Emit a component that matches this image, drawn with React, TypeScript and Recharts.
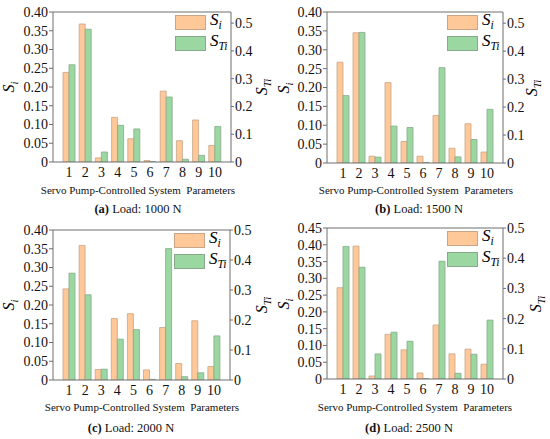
import React from 'react';
import { BarChart, Bar, XAxis, YAxis, Legend, ReferenceLine } from 'recharts';

// parameter index on the x axis
const params = ['1', '2', '3', '4', '5', '6', '7', '8', '9', '10'];

// first-order (Si) and total (STi) indices
const siA = [0.239, 0.368, 0.011, 0.119, 0.062, 0.004, 0.189, 0.057, 0.112, 0.044];
const stiA = [0.35, 0.478, 0.036, 0.132, 0.119, 0.001, 0.234, 0.01, 0.024, 0.128];
const siB = [0.267, 0.345, 0.018, 0.213, 0.057, 0.018, 0.126, 0.039, 0.104, 0.029];
const stiB = [0.241, 0.467, 0.021, 0.132, 0.127, 0.002, 0.341, 0.022, 0.084, 0.192];
const siC = [0.243, 0.359, 0.028, 0.164, 0.177, 0.027, 0.14, 0.044, 0.158, 0.036];
const stiC = [0.356, 0.284, 0.036, 0.136, 0.168, 0.002, 0.438, 0.011, 0.024, 0.147];
const siD = [0.272, 0.396, 0.009, 0.133, 0.087, 0.018, 0.161, 0.075, 0.089, 0.044];
const stiD = [0.439, 0.37, 0.083, 0.155, 0.125, 0.001, 0.39, 0.019, 0.082, 0.195];

const leftTicks = [0, 0.05, 0.1, 0.15, 0.2, 0.25, 0.3, 0.35, 0.4];
const leftTicksD = [0, 0.05, 0.1, 0.15, 0.2, 0.25, 0.3, 0.35, 0.4, 0.45];
const rightTicks = [0, 0.1, 0.2, 0.3, 0.4, 0.5];

const SERIF = "'Liberation Serif', 'Times New Roman', Times, serif";
const ORANGE = '#fec898';
const ORANGE_EDGE = '#c9a588';
const GREEN = '#9bd7a1';
const GREEN_EDGE = '#86aa8a';
const AXIS = '#6e6e6e';

const fmtLeft = (v: number) => (v === 0 ? '0' : v.toFixed(2));
const fmtRight = (v: number) => (v === 0 ? '0' : v.toFixed(1));

type PanelProps = {
  tag: string;
  load: string;
  si: number[];
  sti: number[];
  lTicks: number[];
  rMax: number;
  x: number;
  y: number;
  left: number;
  right: number;
  top: number;
  bottom: number;
  rTitleX: number;
  xTitleX: number;
  capX: number;
  xTitleY: number;
  capY: number;
};

const H = 185;
const tickStyle = { fontFamily: SERIF, fontSize: 14, fill: '#111' };

const Sym = ({ sub, size }: { sub: string; size: number }) => (
  <span style={{ fontFamily: SERIF, fontStyle: 'italic', fontSize: size, whiteSpace: 'nowrap' }}>
    S<span style={{ fontSize: size * 0.68, verticalAlign: -size * 0.22 }}>{sub}</span>
  </span>
);

const LegendBox = () => (
  <div style={{ lineHeight: 1 }}>
    {[
      { fill: ORANGE, edge: ORANGE_EDGE, sub: 'i' },
      { fill: GREEN, edge: GREEN_EDGE, sub: 'Ti' },
    ].map((r, i) => (
      <div key={i} style={{ display: 'flex', alignItems: 'center', height: 16, marginBottom: 5 }}>
        <span style={{ display: 'inline-block', width: 31, height: 15, background: r.fill, border: `1px solid ${r.edge}`, boxSizing: 'border-box' }} />
        <span style={{ marginLeft: 4, marginTop: -2 }}>
          <Sym sub={r.sub} size={17} />
        </span>
      </div>
    ))}
  </div>
);

const Panel = (p: PanelProps) => {
  const data = params.map((name, i) => ({ name, si: p.si[i], sti: p.sti[i] }));
  const lMax = p.lTicks[p.lTicks.length - 1];
  const plotMidY = (p.top + p.bottom) / 2;
  return (
    <div style={{ position: 'absolute', left: p.x, top: p.y, width: 275, height: 220, fontFamily: SERIF }}>
      <BarChart
        width={275}
        height={H}
        data={data}
        barGap={0}
        barSize={6}
        margin={{ top: p.top, right: 0, left: 0, bottom: 0 }}
        style={{ fontFamily: SERIF }}
      >
        <XAxis
          dataKey="name"
          height={H - p.bottom}
          padding={{ left: 8, right: 8 }}
          tickLine={false}
          tickSize={5}
          tickMargin={0}
          axisLine={{ stroke: AXIS }}
          interval={0}
          tick={tickStyle}
        />
        <YAxis
          yAxisId="l"
          width={p.left}
          domain={[0, lMax]}
          ticks={p.lTicks}
          interval={0}
          tickFormatter={fmtLeft}
          allowDataOverflow
          tickSize={4}
          tickMargin={1}
          axisLine={{ stroke: AXIS }}
          tickLine={{ stroke: AXIS }}
          tick={tickStyle}
        />
        <YAxis
          yAxisId="r"
          orientation="right"
          width={275 - p.right}
          domain={[0, p.rMax]}
          ticks={rightTicks}
          interval={0}
          tickFormatter={fmtRight}
          allowDataOverflow
          tickSize={3}
          tickMargin={1}
          axisLine={{ stroke: AXIS }}
          tickLine={{ stroke: AXIS }}
          tick={tickStyle}
        />
        <ReferenceLine yAxisId="l" y={lMax} stroke={AXIS} />
        <Legend
          layout="vertical"
          align="center"
          verticalAlign="middle"
          content={() => <LegendBox />}
          wrapperStyle={{ top: p.top + 2, left: p.right - 56, width: 60 }}
        />
        <Bar yAxisId="l" dataKey="si" fill={ORANGE} stroke={ORANGE_EDGE} strokeWidth={0.8} isAnimationActive={false} />
        <Bar yAxisId="r" dataKey="sti" fill={GREEN} stroke={GREEN_EDGE} strokeWidth={0.8} isAnimationActive={false} />
      </BarChart>
      <div style={{ position: 'absolute', left: 10, top: plotMidY, transform: 'translate(-50%, -50%) rotate(-90deg)' }}>
        <Sym sub="i" size={16} />
      </div>
      <div style={{ position: 'absolute', left: p.rTitleX, top: plotMidY, transform: 'translate(-50%, -50%) rotate(-90deg)' }}>
        <Sym sub="Ti" size={16} />
      </div>
      <div
        style={{
          position: 'absolute',
          left: p.xTitleX,
          top: p.xTitleY,
          transform: 'translate(-50%, -50%)',
          fontFamily: SERIF,
          fontSize: 11,
          whiteSpace: 'pre',
          color: '#111',
        }}
      >
        {'Servo Pump-Controlled System  Parameters'}
      </div>
      <div
        style={{
          position: 'absolute',
          left: p.capX,
          top: p.capY,
          transform: 'translate(-50%, -50%)',
          fontFamily: SERIF,
          fontSize: 12.5,
          whiteSpace: 'pre',
          color: '#111',
        }}
      >
        <b>({p.tag})</b> {p.load}
      </div>
    </div>
  );
};

export default function App() {
  return (
    <div style={{ position: 'absolute', left: 0, top: 0, width: 550, height: 439, background: '#fff', overflow: 'hidden' }}>
      <Panel tag="a" load="Load: 1000 N" si={siA} sti={stiA} lTicks={leftTicks} rMax={0.54}
        x={0} y={0} left={53} right={231} top={12} bottom={162} rTitleX={263} xTitleX={138} capX={138} xTitleY={190} capY={209} />
      <Panel tag="b" load="Load: 1500 N" si={siB} sti={stiB} lTicks={leftTicks} rMax={0.54}
        x={275} y={0} left={52} right={228} top={12} bottom={163} rTitleX={258} xTitleX={141} capX={144} xTitleY={190} capY={209} />
      <Panel tag="c" load="Load: 2000 N" si={siC} sti={stiC} lTicks={leftTicks} rMax={0.5}
        x={0} y={219} left={53} right={230} top={11} bottom={161} rTitleX={263} xTitleX={142} capX={131} xTitleY={188} capY={209} />
      <Panel tag="d" load="Load: 2500 N" si={siD} sti={stiD} lTicks={leftTicksD} rMax={0.5}
        x={275} y={219} left={52} right={228} top={9} bottom={160} rTitleX={262} xTitleX={140} capX={134} xTitleY={188} capY={209} />
    </div>
  );
}
